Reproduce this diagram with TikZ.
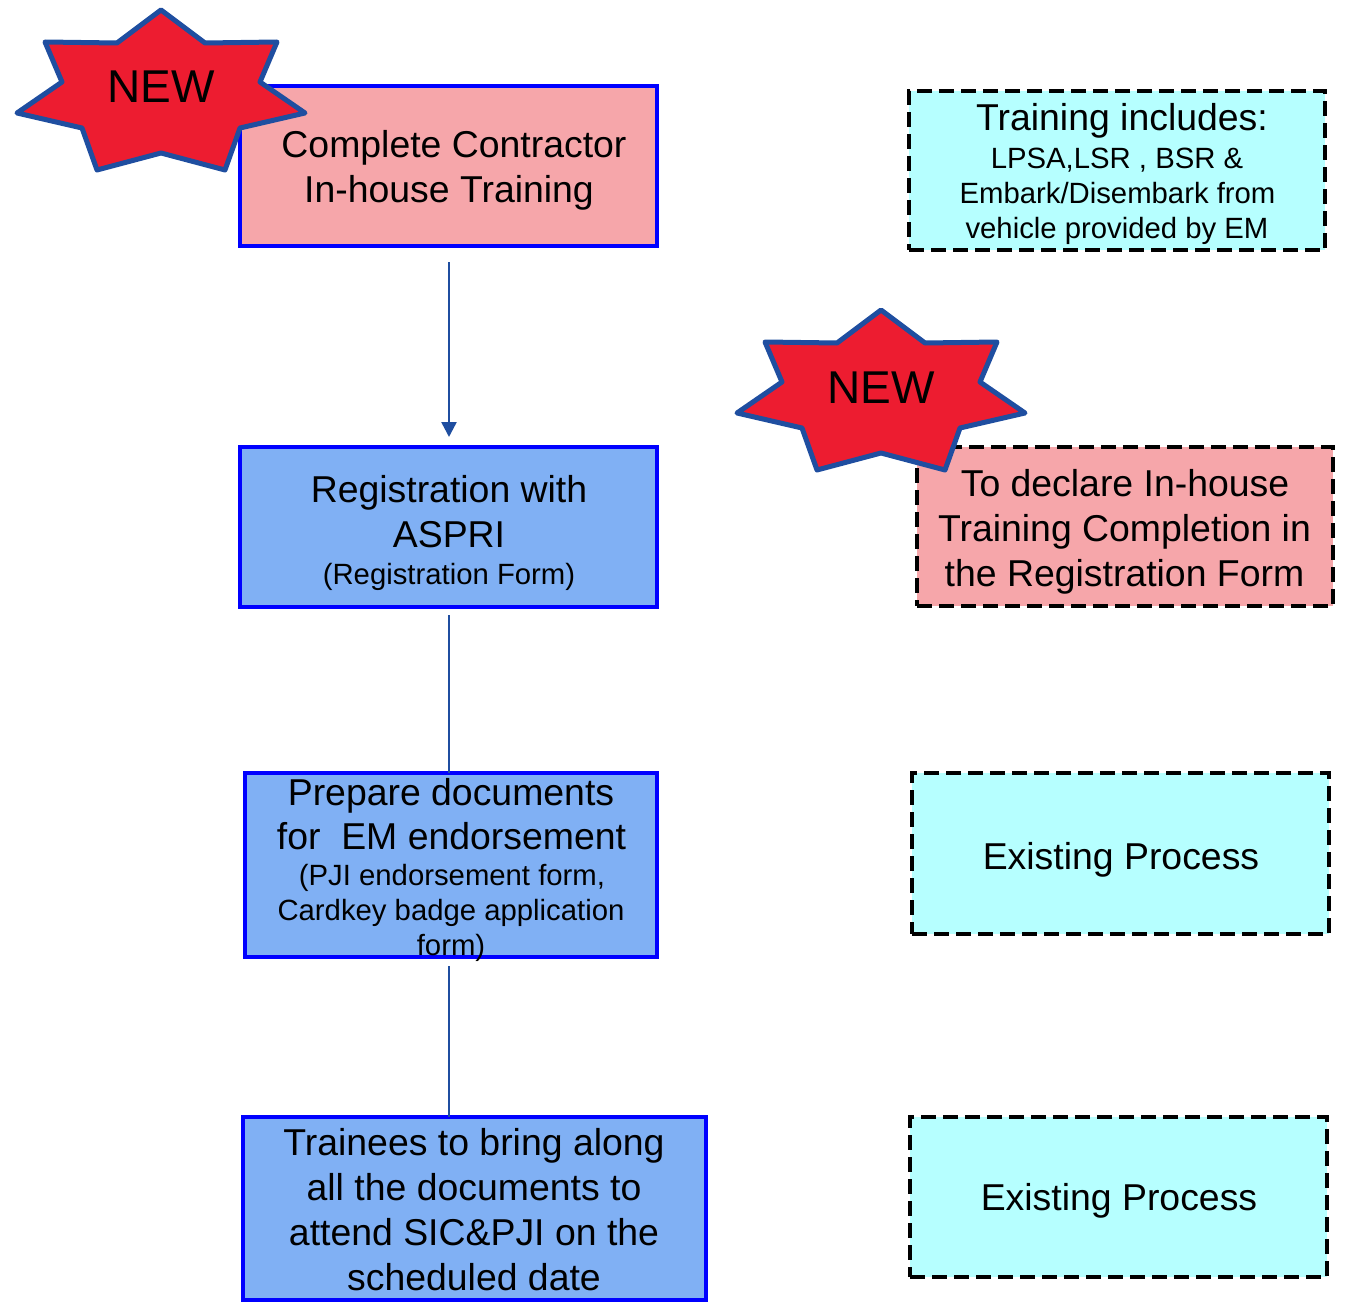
\documentclass[tikz,border=0pt]{standalone}
\usepackage{fontspec}
\setmainfont{Liberation Sans}
\usetikzlibrary{arrows.meta}
\definecolor{pinkfill}{RGB}{246,166,170}
\definecolor{bluefill}{RGB}{128,176,244}
\definecolor{cyanfill}{RGB}{182,255,255}
\definecolor{boxblue}{RGB}{0,0,255}
\definecolor{starred}{RGB}{237,28,48}
\definecolor{darkblue}{RGB}{31,78,160}
\tikzset{
  flowbox/.style={draw=boxblue, line width=4.5pt, inner sep=0pt, outer sep=0pt},
  notebox/.style={draw=black, line width=4.5pt, dash pattern=on 15pt off 7pt, inner sep=0pt, outer sep=0pt},
  bigline/.style={anchor=base, inner sep=0pt, text=black, font=\fontsize{37.4}{45}\selectfont},
  smallline/.style={anchor=base, inner sep=0pt, text=black, font=\fontsize{29.3}{35}\selectfont},
  newline/.style={anchor=base, inner sep=0pt, text=black, font=\fontsize{46}{50}\selectfont},
  conn/.style={draw=darkblue, line width=2.5pt},
  starshape/.style={fill=starred, draw=darkblue, line width=5pt, line join=round},
}
\begin{document}
\begin{tikzpicture}[x=1pt,y=-1pt]
\useasboundingbox (0,0) rectangle (1345,1303);
% left flow boxes
\node[flowbox, fill=pinkfill, minimum width=417pt, minimum height=160pt] (b1) at (448.5,166) {};
\node[flowbox, fill=bluefill, minimum width=417pt, minimum height=160pt] (b2) at (448.5,527) {};
\node[flowbox, fill=bluefill, minimum width=412pt, minimum height=184pt] (b3) at (451,865) {};
\node[flowbox, fill=bluefill, minimum width=463pt, minimum height=183pt] (b4) at (474.5,1208.5) {};
% right note boxes
\node[notebox, fill=cyanfill, minimum width=416pt, minimum height=159pt] (r1) at (1117,170.5) {};
\node[notebox, fill=pinkfill, minimum width=416pt, minimum height=159pt] (r2) at (1125,526.5) {};
\node[notebox, fill=cyanfill, minimum width=417pt, minimum height=161pt] (r3) at (1120.5,853.5) {};
\node[notebox, fill=cyanfill, minimum width=417pt, minimum height=160pt] (r4) at (1118.5,1197) {};
% connectors
\coordinate (c1s) at (449,262);
\coordinate (c1e) at (449,437);
\draw[conn, -{Triangle[width=15pt,length=15pt]}] (c1s) -- (c1e);
\coordinate (c2s) at (449,615);
\draw[conn] (c2s) -- (b3.north -| c2s);
\coordinate (c3s) at (449,966);
\draw[conn] (c3s) -- (b4.north -| c3s);
% texts box 1
\node[bigline] (t1a) at (454,158) {Complete Contractor};
\node[bigline] (t1b) at (449,203) {In-house Training};
% box 2
\node[bigline] (t2a) at (449,502) {Registration with};
\node[bigline] (t2b) at (449,547) {ASPRI};
\node[smallline] (t2c) at (449,584) {(Registration Form)};
% box 3
\node[bigline] (t3a) at (451,805) {Prepare documents};
\node[bigline] (t3b) at (451.5,849) {for\ \ EM endorsement};
\node[smallline] (t3c) at (452,885) {(PJI endorsement form,};
\node[smallline] (t3d) at (451,920) {Cardkey badge application};
\node[smallline] (t3e) at (451,955) {form)};
% box 4
\node[bigline] (t4a) at (474,1155) {Trainees to bring along};
\node[bigline] (t4b) at (474,1200) {all the documents to};
\node[bigline] (t4c) at (474,1245) {attend SIC\&PJI on the};
\node[bigline] (t4d) at (474,1290) {scheduled date};
% note 1
\node[bigline] (t5a) at (1122,131) {Training includes:};
\node[smallline] (t5b) at (1117,168) {LPSA,LSR , BSR \&};
\node[smallline] (t5c) at (1117.5,204) {Embark/Disembark from};
\node[smallline] (t5d) at (1117,238) {vehicle provided by EM};
% note 2
\node[bigline] (t6a) at (1125,496) {To declare In-house};
\node[bigline] (t6b) at (1124.5,541) {Training Completion in};
\node[bigline] (t6c) at (1124.5,586) {the Registration Form};
% notes 3, 4
\node[bigline] (t7) at (1121,869) {Existing Process};
\node[bigline] (t8) at (1119,1210) {Existing Process};
% stars
\foreach \ox/\oy/\nm in {0/0/s1, 720/300/s2}{
  \begin{scope}[shift={(\ox,\oy)}]
    \draw[starshape] (161,10) -- (205,43) -- (277,42) -- (260,82) -- (305,113) -- (240,128) -- (225,170) -- (161,153) -- (97,170) -- (82,128) -- (17,113) -- (62,82) -- (45,42) -- (117,43) -- cycle;
    \node[newline] (\nm) at (161,103) {NEW};
  \end{scope}
}
\end{tikzpicture}
\end{document}
